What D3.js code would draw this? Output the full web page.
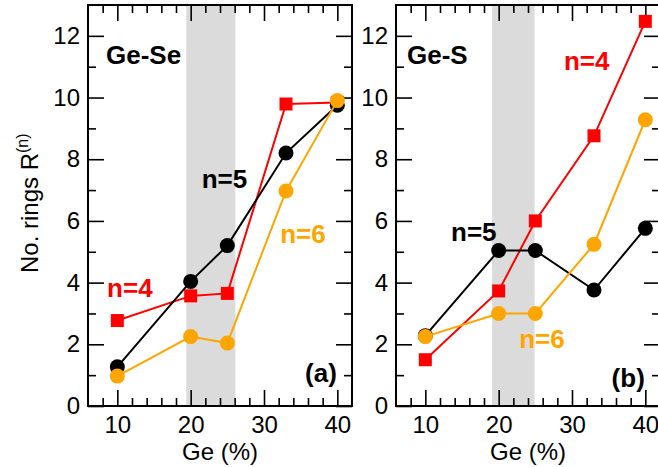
<!DOCTYPE html>
<html>
<head>
<meta charset="utf-8">
<script src="https://cdn.jsdelivr.net/npm/d3@7"></script>
<style>
  html, body { margin: 0; padding: 0; background: #fff; }
  svg { display: block; font-family: "Liberation Sans", Arial, Helvetica, sans-serif; }
</style>
</head>
<body>
<svg id="chart" width="658" height="467"></svg>
<script>
// ---- data ----
const geX = [10, 20, 25, 33, 40];

// Panel (a) Ge-Se
const seN4 = [2.77, 3.57, 3.65, 9.79, 9.84];
const seN5 = [1.27, 4.04, 5.2, 8.2, 9.75];
const seN6 = [0.97, 2.25, 2.04, 6.97, 9.9];

// Panel (b) Ge-S
const sN4 = [1.5, 3.73, 6.0, 8.76, 12.47];
const sN5 = [2.28, 5.04, 5.04, 3.76, 5.76];
const sN6 = [2.25, 3.0, 3.0, 5.24, 9.28];

const xMajorTicks = [10, 20, 30, 40];
const xMinorTicks = [8, 12, 14, 16, 18, 22, 24, 26, 28, 32, 34, 36, 38];
const yMajorTicks = [0, 2, 4, 6, 8, 10, 12];
const yMinorTicks = [1, 3, 5, 7, 9, 11];

const seShade = [19.4, 26.1];
const sShade = [19.1, 24.9];

const colors = { n4: "#ff0000", n5: "#000000", n6: "#ffa500" };

const panels = [
  {
    left: 88, shade: seShade, yTitle: true,
    series: [
      { key: "n4", vals: seN4, marker: "square" },
      { key: "n5", vals: seN5, marker: "circle" },
      { key: "n6", vals: seN6, marker: "circle" }
    ],
    labels: [
      { text: "Ge-Se", x: 8.45, y: 11.08, color: "#000" },
      { text: "n=5", x: 21.5, y: 7.07, color: colors.n5 },
      { text: "n=4", x: 8.6, y: 3.54, color: colors.n4 },
      { text: "n=6", x: 32.2, y: 5.29, color: colors.n6 },
      { text: "(a)", x: 35.6, y: 0.78, color: "#000" }
    ]
  },
  {
    left: 396, shade: sShade, yTitle: false,
    series: [
      { key: "n4", vals: sN4, marker: "square" },
      { key: "n5", vals: sN5, marker: "circle" },
      { key: "n6", vals: sN6, marker: "circle" }
    ],
    labels: [
      { text: "Ge-S", x: 7.5, y: 11.08, color: "#000" },
      { text: "n=4", x: 28.9, y: 10.9, color: colors.n4 },
      { text: "n=5", x: 13.5, y: 5.36, color: colors.n5 },
      { text: "n=6", x: 22.8, y: 1.87, color: colors.n6 },
      { text: "(b)", x: 35.4, y: 0.63, color: "#000" }
    ]
  }
];

const W = 264, plotTop = 5, plotBottom = 406;
const svg = d3.select("#chart");

const y = d3.scaleLinear().domain([0, 13]).range([plotBottom, plotTop]);

panels.forEach(p => {
  const x = d3.scaleLinear().domain([6, 42]).range([p.left, p.left + W]);
  const g = svg.append("g");

  // shaded band
  g.append("rect")
    .attr("x", x(p.shade[0])).attr("y", plotTop)
    .attr("width", x(p.shade[1]) - x(p.shade[0]))
    .attr("height", plotBottom - plotTop)
    .attr("fill", "#dbdbdb");

  const styleAxis = sel => {
    sel.select(".domain").remove();
    sel.selectAll(".tick line").attr("stroke", "#000").attr("stroke-width", 1.6);
    sel.selectAll(".tick text").attr("font-size", 24).attr("fill", "#000")
      .attr("font-family", "'Liberation Sans', Arial, Helvetica, sans-serif");
  };

  // bottom axis
  g.append("g").attr("transform", `translate(0,${plotBottom})`)
    .call(d3.axisBottom(x).tickValues(xMajorTicks).tickSize(-16).tickPadding(10).tickFormat(d3.format("d")))
    .call(styleAxis);
  g.append("g").attr("transform", `translate(0,${plotBottom})`)
    .call(d3.axisBottom(x).tickValues(xMinorTicks).tickSize(-8).tickFormat(""))
    .call(styleAxis);
  // top axis
  g.append("g").attr("transform", `translate(0,${plotTop})`)
    .call(d3.axisTop(x).tickValues(xMajorTicks).tickSize(-16).tickFormat(""))
    .call(styleAxis);
  g.append("g").attr("transform", `translate(0,${plotTop})`)
    .call(d3.axisTop(x).tickValues(xMinorTicks).tickSize(-8).tickFormat(""))
    .call(styleAxis);
  // left axis
  g.append("g").attr("transform", `translate(${p.left},0)`)
    .call(d3.axisLeft(y).tickValues(yMajorTicks).tickSize(-16).tickPadding(8).tickFormat(d3.format("d")))
    .call(styleAxis);
  g.append("g").attr("transform", `translate(${p.left},0)`)
    .call(d3.axisLeft(y).tickValues(yMinorTicks).tickSize(-8).tickFormat(""))
    .call(styleAxis);
  // right axis
  g.append("g").attr("transform", `translate(${p.left + W},0)`)
    .call(d3.axisRight(y).tickValues(yMajorTicks).tickSize(-16).tickFormat(""))
    .call(styleAxis);
  g.append("g").attr("transform", `translate(${p.left + W},0)`)
    .call(d3.axisRight(y).tickValues(yMinorTicks).tickSize(-8).tickFormat(""))
    .call(styleAxis);

  // series
  const line = d3.line().x((d, i) => x(geX[i])).y(d => y(d));
  p.series.forEach(s => {
    const c = colors[s.key];
    g.append("path").datum(s.vals)
      .attr("d", line).attr("fill", "none")
      .attr("stroke", c).attr("stroke-width", 2);
    if (s.marker === "square") {
      g.selectAll(null).data(s.vals).join("rect")
        .attr("x", (d, i) => x(geX[i]) - 6.5).attr("y", d => y(d) - 6.5)
        .attr("width", 13).attr("height", 13).attr("fill", c);
    } else {
      g.selectAll(null).data(s.vals).join("circle")
        .attr("cx", (d, i) => x(geX[i])).attr("cy", d => y(d))
        .attr("r", 7.5).attr("fill", c);
    }
  });

  // frame
  g.append("rect")
    .attr("x", p.left).attr("y", plotTop)
    .attr("width", W).attr("height", plotBottom - plotTop)
    .attr("fill", "none").attr("stroke", "#000").attr("stroke-width", 2);

  // labels
  p.labels.forEach(l => {
    g.append("text")
      .attr("x", x(l.x)).attr("y", y(l.y))
      .attr("font-size", 26).attr("font-weight", "bold")
      .attr("fill", l.color).text(l.text);
  });

  // x title
  g.append("text")
    .attr("x", p.left + W / 2).attr("y", 460)
    .attr("text-anchor", "middle").attr("font-size", 24)
    .text("Ge (%)");

  if (p.yTitle) {
    const t = g.append("text")
      .attr("transform", "translate(38,273) rotate(-90)")
      .attr("text-anchor", "start").attr("font-size", 24);
    t.append("tspan").text("No. rings R");
    t.append("tspan").attr("dy", -10).attr("font-size", 16).text("(n)");
  }
});
</script>
</body>
</html>
